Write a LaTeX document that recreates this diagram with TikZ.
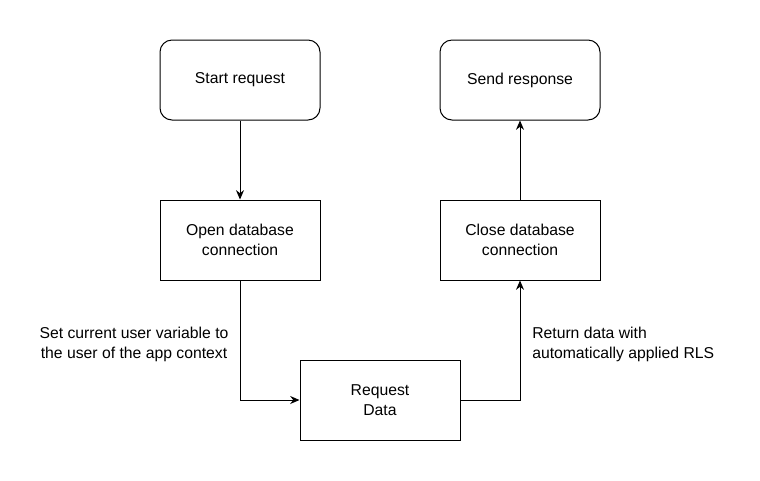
\documentclass[tikz,border=0pt]{standalone}
\usepackage{fontspec}
\setmainfont{Liberation Sans}
\usetikzlibrary{positioning,arrows.meta}

\begin{document}
\begin{tikzpicture}[
        x=0.75pt, y=-0.75pt,
        every node/.style={align=center, font=\fontsize{11.8}{15}\selectfont},
        stepbox/.style={draw, minimum width=120pt, minimum height=60pt, inner sep=0pt, line width=0.75pt},
        startbox/.style={stepbox, rounded corners=9pt},
        flow/.style={-{Stealth[length=7pt,width=6pt]}, line width=0.75pt},
        note/.style={inner sep=0pt},
    ]
    \useasboundingbox (0,0) rectangle (760,480);
    \node[startbox] (start) at (240,80) {Start request};
    \node[startbox] (send) at (520,80) {Send response};
    \node[stepbox] (open) at (240,240) {Open database\\connection};
    \node[stepbox] (close) at (520,240) {Close database\\connection};
    \node[stepbox] (data) at (380,400) {Request\\Data};

    \draw[flow] (start) -- (open);
    \draw[flow] (open.south) |- (data.west);
    \draw[flow] (data.east) -| (close.south);
    \draw[flow] (close) -- (send);

    \node[note] (setuser) at (134,344) {Set current user variable to\\the user of the app context};
    \node[note, align=left, anchor=west] (rls) at (532,344) {Return data with\\automatically applied RLS};
\end{tikzpicture}
\end{document}
